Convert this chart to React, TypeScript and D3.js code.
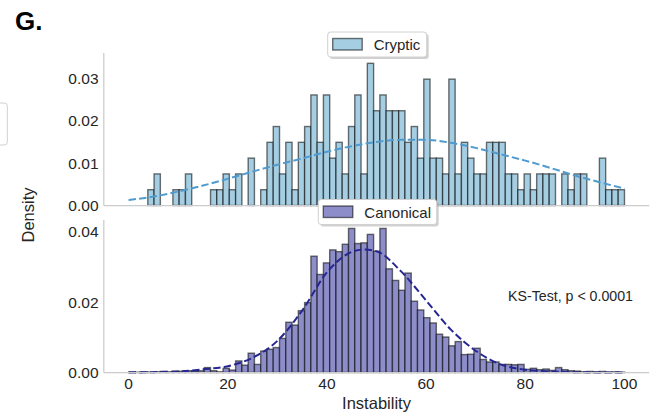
import React from 'react';
import * as d3 from 'd3';

// Shared histogram bins (79 bins)
const BIN_START = 0.08;
const BIN_WIDTH = 1.265;

// Cryptic: counts per bin (density-normalised when drawn)
const crypticCounts = [
  0, 0, 0,
  1, 2, 0, 0, 1, 1, 2, 0, 0, 0,
  1, 1, 2, 1, 2, 0, 3, 0, 1, 4,
  5, 2, 4, 1, 4, 5, 7, 4, 7, 3,
  4, 2, 5, 7, 2, 9, 6, 7, 6, 6,
  6, 4, 5, 3, 8, 3, 3, 2, 8, 2,
  4, 3, 2, 2, 4, 4, 4, 2, 2, 1,
  2, 1, 2, 2, 2, 0, 2, 1, 2, 2,
  0, 0, 3, 1, 1, 1,
];

// Canonical: density per bin
const canonicalDensity = [
  0.0002, 0.0001, 0.0002, 0.0001, 0.0002, 0.0003, 0.0002, 0.0004, 0.0003, 0.0005,
  0.0004, 0.0005, 0.0014, 0.0005, 0.0002, 0.0012, 0.0007, 0.0033, 0.0021, 0.0055,
  0.0023, 0.0061, 0.0066, 0.0071, 0.0097, 0.0143, 0.0135, 0.0176, 0.0199, 0.0331,
  0.0279, 0.0312, 0.0349, 0.0344, 0.0365, 0.0410, 0.0367, 0.0369, 0.0393, 0.0345,
  0.0410, 0.0295, 0.0262, 0.0234, 0.0283, 0.0203, 0.0178, 0.0156, 0.0141, 0.0109,
  0.0101, 0.0076, 0.0088, 0.0051, 0.0052, 0.0069, 0.0037, 0.0030, 0.0030, 0.0023,
  0.0023, 0.0022, 0.0023, 0.0009, 0.0012, 0.0008, 0.0010, 0.0006, 0.0014, 0.0008,
  0.0005, 0.0004, 0.0002, 0.0003, 0.0002, 0.0003, 0.0001, 0.0002, 0.0001,
];

// Fitted density curves
const crypticFitX = [0, 5, 10, 15, 20, 25, 30, 35, 40, 45, 50, 55, 60, 65, 70, 75, 80, 85, 90, 95, 100];
const crypticFitY = [0.0013, 0.0021, 0.0033, 0.0047, 0.0063, 0.0080, 0.0096, 0.0111, 0.0127, 0.0140,
  0.0150, 0.0155, 0.0155, 0.0148, 0.0136, 0.0121, 0.0106, 0.0089, 0.0071, 0.0055, 0.0040];

const canonicalFitX = [0, 5, 10, 15, 20, 25, 30, 35, 40, 45, 47.5, 50, 55, 60, 65, 70, 75, 80, 85, 90, 95, 100];
const canonicalFitY = [0.0000, 0.0001, 0.0003, 0.0009, 0.0018, 0.0042, 0.0090, 0.0176, 0.0285, 0.0343,
  0.0350, 0.0345, 0.0287, 0.0205, 0.0122, 0.0062, 0.0023, 0.0008, 0.0003, 0.0001, 0.0000, 0.0000];

const xTicks = [0, 20, 40, 60, 80, 100];
const topYTicks = [0, 0.01, 0.02, 0.03];
const bottomYTicks = [0, 0.02, 0.04];
const seriesNames = ['Cryptic', 'Canonical'];
const annotation = 'KS-Test, p < 0.0001';
const panelLabel = 'G.';
const xLabel = 'Instability';
const yLabel = 'Density';

const FONT = "'Liberation Sans', Arial, Helvetica, sans-serif";
const TEXT = '#262626';
const SPINE = '#cccccc';

export default function App() {
  const W = 650, H = 415;
  const x = d3.scaleLinear().domain([-5, 105]).range([103.8, 649.2]);
  const yTop = d3.scaleLinear().domain([0, 0.036]).range([205.5, 53]);
  const yBot = d3.scaleLinear().domain([0, 0.0434]).range([372.5, 220]);

  const nTop = d3.sum(crypticCounts);
  const topDensity = crypticCounts.map((c) => c / (nTop * BIN_WIDTH));

  const topLine = d3.line<number>()
    .x((_, i) => x(crypticFitX[i]))
    .y((d) => yTop(d))
    .curve(d3.curveMonotoneX);
  const botLine = d3.line<number>()
    .x((_, i) => x(canonicalFitX[i]))
    .y((d) => yBot(d))
    .curve(d3.curveMonotoneX);

  const bars = (vals: number[], y: d3.ScaleLinear<number, number>, fill: string) =>
    vals.map((v, i) => {
      if (v <= 0) return null;
      const x0 = x(BIN_START + i * BIN_WIDTH);
      const x1 = x(BIN_START + (i + 1) * BIN_WIDTH);
      return (
        <rect key={i} x={x0} y={y(v)} width={x1 - x0} height={y(0) - y(v)}
          fill={fill} stroke="#000" strokeOpacity={0.55} strokeWidth={1.4} />
      );
    });

  const legend = (bx: number, by: number, bw: number, label: string, fill: string) => (
    <g>
      <rect x={bx + 2} y={by + 2} width={bw} height={25} rx={3} fill="#999" opacity={0.45} />
      <rect x={bx} y={by} width={bw} height={25} rx={3} fill="#fff" stroke="#d0d0d0" strokeWidth={1} />
      <rect x={bx + 5} y={by + 6.5} width={29.5} height={11.5} fill={fill} stroke="#000" strokeOpacity={0.55} strokeWidth={1.4} />
      <text x={bx + 46} y={by + 12.5} dominantBaseline="central" fontSize={15} fill={TEXT} fontFamily={FONT}>{label}</text>
    </g>
  );

  return (
    <svg width={W} height={H} style={{ position: 'absolute', left: 0, top: 0, background: '#fff' }}
      fontFamily={FONT}>
      <rect x={0} y={0} width={W} height={H} fill="#fff" />
      {/* partial box at left edge */}
      <rect x={-20} y={103} width={27.3} height={42} rx={3} fill="#fff" stroke="#d0d0d0" strokeWidth={1} />

      <text x={15} y={30} fontSize={26} fontWeight="bold" fill="#000">{panelLabel}</text>

      {/* top panel */}
      <g>{bars(topDensity, yTop, '#a6cee3')}</g>
      <path d={topLine(crypticFitY) || ''} fill="none" stroke="#4f9bd0" strokeWidth={2} strokeDasharray="7.4 3.2" />
      <line x1={x(-5)} x2={x(-5)} y1={53} y2={yTop(0)} stroke={SPINE} strokeWidth={1.25} />
      <line x1={x(-5)} x2={x(105)} y1={yTop(0)} y2={yTop(0)} stroke={SPINE} strokeWidth={1.25} />
      {topYTicks.map((t) => (
        <text key={t} x={98.5} y={yTop(t)} textAnchor="end" dominantBaseline="central" fontSize={15.5} fill={TEXT}>
          {t.toFixed(2)}
        </text>
      ))}

      {/* bottom panel */}
      <g>{bars(canonicalDensity, yBot, '#8d8dc9')}</g>
      <path d={botLine(canonicalFitY) || ''} fill="none" stroke="#262693" strokeWidth={2} strokeDasharray="7.4 3.2" />
      <line x1={x(-5)} x2={x(-5)} y1={220} y2={yBot(0)} stroke={SPINE} strokeWidth={1.25} />
      <line x1={x(-5)} x2={x(105)} y1={yBot(0)} y2={yBot(0)} stroke={SPINE} strokeWidth={1.25} />
      {bottomYTicks.map((t) => (
        <text key={t} x={98.5} y={yBot(t)} textAnchor="end" dominantBaseline="central" fontSize={15.5} fill={TEXT}>
          {t.toFixed(2)}
        </text>
      ))}
      {xTicks.map((t) => (
        <text key={t} x={x(t)} y={389} textAnchor="middle" fontSize={15.5} fill={TEXT}>{t}</text>
      ))}

      <text x={508} y={300.5} fontSize={14.2} fill={TEXT}>{annotation}</text>

      <text x={x(50)} y={409} textAnchor="middle" fontSize={16.5} fill={TEXT}>{xLabel}</text>
      <text transform={`translate(34,215) rotate(-90)`} textAnchor="middle" fontSize={16.5} fill={TEXT}>{yLabel}</text>

      {legend(327.7, 32, 99, seriesNames[0], '#a6cee3')}
      {legend(318.3, 199.5, 118.4, seriesNames[1], '#8d8dc9')}
    </svg>
  );
}
